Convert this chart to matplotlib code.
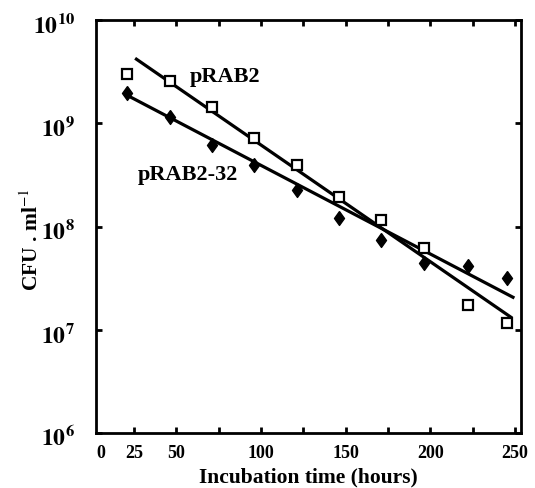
import matplotlib
matplotlib.use("Agg")
import matplotlib.pyplot as plt
import matplotlib.ticker as mticker
from matplotlib.transforms import offset_copy
import numpy as np

# values (hours, CFU/ml)
hours = [21, 46, 71, 96, 121, 146, 171, 196, 222, 245]
prab2 = [2.98e9, 2.59e9, 1.45e9, 7.2e8, 3.9e8, 1.91e8, 1.16e8, 6.2e7, 1.75e7, 1.16e7]
prab2_32 = [1.95e9, 1.14e9, 6.2e8, 3.95e8, 2.24e8, 1.2e8, 7.4e7, 4.4e7, 4.1e7, 3.2e7]

# fitted lines (end points as drawn in the figure)
fit_hours_prab2 = [25.6, 248.2]
fit_prab2 = [4.26e9, 1.30e7]
fit_hours_prab2_32 = [19.7, 249.6]
fit_prab2_32 = [1.91e9, 2.03e7]

xticks = [25, 50, 75, 100, 125, 150, 175, 200, 225, 250]
xticklabels = ['25', '50', '', '100', '', '150', '', '200', '', '250']
ydecades = [6, 7, 8, 9, 10]

plt.rcParams['font.family'] = ['Liberation Serif', 'DejaVu Serif']
plt.rcParams['mathtext.fontset'] = 'stix'

fig = plt.figure(figsize=(5.35, 4.89), dpi=100)
ax = fig.add_axes([96 / 535, 1 - 434 / 489, 425 / 535, 413 / 489])

# fit lines
ax.plot(fit_hours_prab2, fit_prab2, color='black', lw=2.3, solid_capstyle='butt', zorder=2)
ax.plot(fit_hours_prab2_32, fit_prab2_32, color='black', lw=2.3, solid_capstyle='butt', zorder=2)

# data points
diamond = [(0, 1), (0.72, 0), (0, -1), (-0.72, 0), (0, 1)]
ax.plot(hours, prab2_32, linestyle='none', marker=diamond, markersize=10,
        color='black', zorder=3)
ax.plot(hours, prab2, linestyle='none', marker='s', markersize=6.5,
        markerfacecolor='white', markeredgecolor='black', markeredgewidth=1.6, zorder=4)

ax.text(58, 2.85e9, 'pRAB2', fontsize=16, fontweight='bold', va='center', ha='left')
ax.text(27, 3.2e8, 'pRAB2-32', fontsize=16, fontweight='bold', va='center', ha='left')

ax.set_yscale('log')
ax.set_xlim(2.5, 253.5)
ax.set_ylim(1e6, 1e10)

ax.set_xticks(xticks)
ax.set_xticklabels(xticklabels, fontsize=13, fontweight='bold')
ax.set_xticks([5.5], minor=True)
ax.set_xticklabels(['0'], minor=True, fontsize=13, fontweight='bold')
ax.tick_params(axis='x', which='minor', length=0, pad=8)

ax.yaxis.set_major_locator(mticker.FixedLocator([10.0 ** d for d in ydecades]))
ax.yaxis.set_minor_locator(mticker.NullLocator())
ax.set_yticklabels([])
# decade labels sit a little below their ticks, as in the original
ylab_trans = offset_copy(ax.get_yaxis_transform(), fig=fig, x=-21, y=-5, units='dots')
for d in ydecades:
    ax.text(0, 10.0 ** d, r'$\mathbf{10}^{\mathbf{%d}}$' % d, fontsize=17,
            ha='right', va='center', transform=ylab_trans, clip_on=False)

ax.tick_params(axis='both', which='major', direction='in', length=4, width=2,
               top=True, right=True, pad=8)

for s in ax.spines.values():
    s.set_linewidth(2)

ax.set_xlabel('Incubation time (hours)', fontsize=15.5, fontweight='bold', labelpad=4)
ax.set_ylabel('CFU . ml$^{-1}$', fontsize=15.5, fontweight='bold')
ax.yaxis.set_label_coords(-0.125, 0.47)

fig.savefig('out.png', dpi=100)
